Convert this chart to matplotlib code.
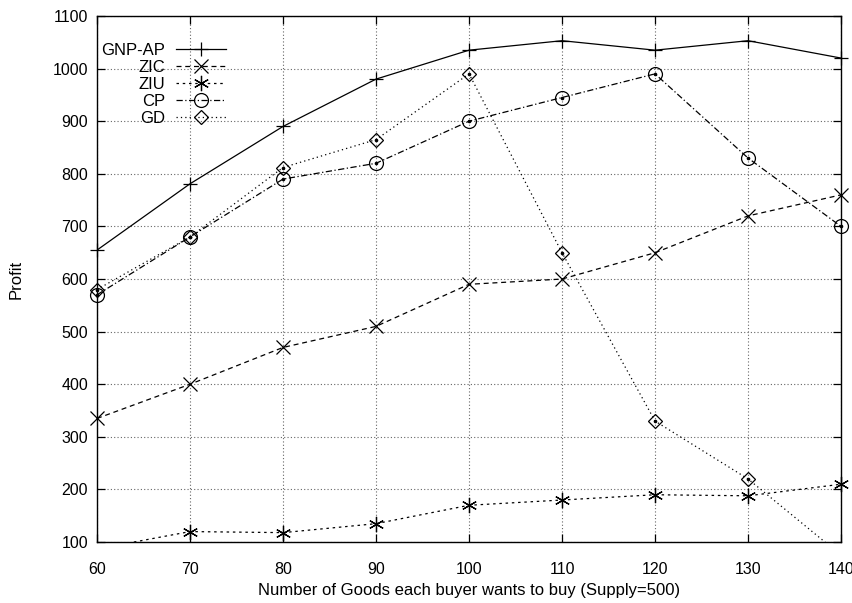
import matplotlib.pyplot as plt
import numpy as np

plt.rcParams['font.family'] = ['Liberation Sans', 'DejaVu Sans']
plt.rcParams['font.size'] = 12

goods = [60, 70, 80, 90, 100, 110, 120, 130, 140]

gnp_ap = [655, 781, 890, 980, 1035, 1053, 1035, 1053, 1020]
zic = [335, 400, 470, 510, 590, 600, 650, 720, 760]
ziu = [87, 120, 118, 135, 170, 180, 190, 188, 210]
cp = [570, 680, 790, 820, 900, 945, 990, 830, 700]
gd = [580, 680, 812, 865, 990, 650, 330, 220, 75]

series = [
    ("GNP-AP", gnp_ap, "-", "+", 10, False),
    ("ZIC", zic, (0, (4, 3)), "x", 10, False),
    ("ZIU", ziu, (0, (2, 3)), (6, 2, 0), 11, True),
    ("CP", cp, (0, (5, 2, 1, 2)), "o", 10, True),
    ("GD", gd, (0, (1, 2.5)), "D", 7, True),
]

ymin, ymax = 100, 1100

fig = plt.figure(figsize=(8.53, 6.03), dpi=100)
ax = fig.add_axes([0.1137, 0.101, 0.8723, 0.8725])

for name, vals, ls, mk, ms, dot in series:
    v = np.array(vals, dtype=float)
    # the line itself is clipped at the frame
    ax.plot(goods, v, color="black", linestyle=ls, linewidth=0.9)
    # points inside the range are drawn whole, even on the frame
    vin = np.where((v >= ymin) & (v <= ymax), v, np.nan)
    ax.plot(goods, vin, linestyle="none", marker=mk, markersize=ms,
            markerfacecolor="none", markeredgecolor="black",
            markeredgewidth=0.9, clip_on=False)
    if dot:
        ax.plot(goods, vin, linestyle="none", marker="o", markersize=1.6,
                color="black", clip_on=False)
    # legend entry
    ax.plot([], [], color="black", linestyle=ls, linewidth=0.9, marker=mk,
            markersize=ms, markerfacecolor="none", markeredgecolor="black",
            markeredgewidth=0.9, label=name)

ax.set_xlim(60, 140)
ax.set_ylim(ymin, ymax)
ax.set_xticks(range(60, 141, 10))
ax.set_yticks(range(100, 1101, 100))
ax.tick_params(direction="in", length=6, width=0.9, top=True, right=True,
               labelsize=11.5)
ax.tick_params(axis="x", pad=14)
ax.tick_params(axis="y", pad=6.5)
for sp in ax.spines.values():
    sp.set_linewidth(1.0)
ax.grid(True, color="#666666", linestyle=(0, (1, 2)), linewidth=0.8)
ax.set_axisbelow(True)

ax.set_xlabel("Number of Goods each buyer wants to buy (Supply=500)", labelpad=5)
ax.set_ylabel("Profit", labelpad=21)

leg = ax.legend(loc="upper right", bbox_to_anchor=(0.174, 0.949),
                markerfirst=False, frameon=False, handlelength=3.0,
                handletextpad=0.7, labelspacing=0.12, borderpad=0,
                borderaxespad=0)

fig.savefig("out.png", dpi=100)
